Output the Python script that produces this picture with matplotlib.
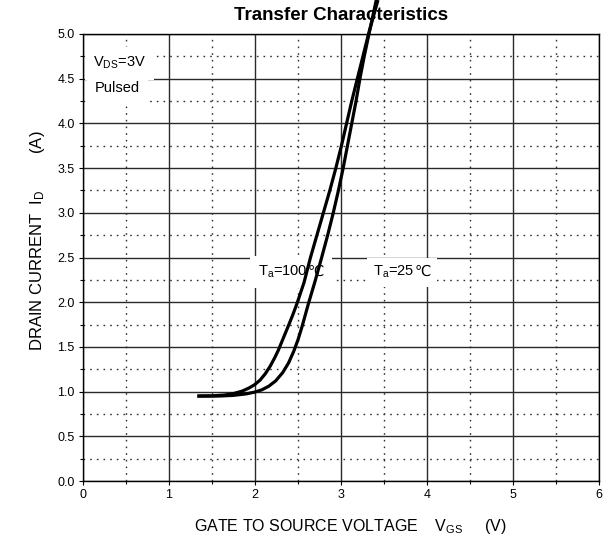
import matplotlib
matplotlib.use('Agg')
import matplotlib.pyplot as plt
from matplotlib.ticker import MultipleLocator
from matplotlib.offsetbox import TextArea, HPacker, AnnotationBbox

# ---- data ----
vgs_25 = [1.33, 1.60, 1.75, 1.90, 2.00, 2.08, 2.16, 2.24, 2.32, 2.39, 2.45, 2.50,
          2.545, 2.62, 2.70, 2.775, 2.845, 2.91, 2.97, 3.025, 3.075, 3.125, 3.175,
          3.22, 3.27, 3.325, 3.41]
id_25 = [0.95, 0.951, 0.958, 0.975, 0.995, 1.02, 1.06, 1.12, 1.21, 1.32, 1.45, 1.58,
         1.72, 1.98, 2.24, 2.50, 2.75, 3.00, 3.25, 3.50, 3.75, 4.00, 4.25,
         4.50, 4.75, 5.00, 5.38]

vgs_100 = [1.33, 1.50, 1.65, 1.75, 1.85, 1.93, 2.00, 2.06, 2.12, 2.18, 2.23, 2.27,
           2.33, 2.39, 2.44, 2.49, 2.57, 2.645, 2.72, 2.795, 2.87, 2.94, 3.005,
           3.065, 3.125, 3.19, 3.255, 3.32, 3.43]
id_100 = [0.95, 0.952, 0.962, 0.978, 1.005, 1.04, 1.08, 1.13, 1.20, 1.29, 1.38, 1.46,
          1.60, 1.74, 1.86, 1.99, 2.22, 2.50, 2.75, 3.00, 3.25, 3.50, 3.75,
          4.00, 4.25, 4.50, 4.75, 5.00, 5.38]

x_ticks = [0, 1, 2, 3, 4, 5, 6]
x_tick_labels = ['0', '1', '2', '3', '4', '5', '6']
y_ticks = [0.0, 0.5, 1.0, 1.5, 2.0, 2.5, 3.0, 3.5, 4.0, 4.5, 5.0]
y_tick_labels = ['0.0', '0.5', '1.0', '1.5', '2.0', '2.5', '3.0', '3.5', '4.0', '4.5', '5.0']

plt.rcParams['font.family'] = ['Liberation Sans', 'DejaVu Sans']
plt.rcParams['mathtext.fontset'] = 'custom'
plt.rcParams['mathtext.rm'] = 'Liberation Sans'
plt.rcParams['mathtext.it'] = 'Liberation Sans'
plt.rcParams['mathtext.bf'] = 'Liberation Sans:bold'

fig = plt.figure(figsize=(6.11, 5.43), dpi=100)
ax = fig.add_axes([83/611, 1-481/543, 516/611, 447/543])
ax.set_xlim(0, 6)
ax.set_ylim(0, 5)
ax.set_xticks(x_ticks)
ax.set_xticklabels(x_tick_labels)
ax.set_yticks(y_ticks)
ax.set_yticklabels(y_tick_labels)
ax.xaxis.set_minor_locator(MultipleLocator(0.5))
ax.yaxis.set_minor_locator(MultipleLocator(0.25))
ax.set_axisbelow(True)
ax.grid(which='major', color='#2a2a2a', lw=1.0, ls='-')
ax.grid(which='minor', color='#333333', lw=1.0, ls=(0, (1.2, 3.6)))
ax.tick_params(which='major', direction='out', length=3, width=0.8, labelsize=9, pad=3)
ax.tick_params(which='minor', direction='out', length=2, width=0.8)
for s in ax.spines.values():
    s.set_color('black')
    s.set_linewidth(1.0)

ax.plot(vgs_25, id_25, color='black', lw=2.3, clip_on=False, zorder=6,
        solid_capstyle='butt', solid_joinstyle='round')
ax.plot(vgs_100, id_100, color='black', lw=2.3, clip_on=False, zorder=6,
        solid_capstyle='butt', solid_joinstyle='round')

ax.set_title('Transfer Characteristics', fontweight='bold', fontsize=13.5, pad=10)

# condition notes (white background hides the grid behind them)
ax.text(0.116, 4.63, 'V$_{\\mathrm{DS}}$=3V', fontsize=10.5, ha='left',
        va='baseline', zorder=4, bbox=dict(facecolor='white', edgecolor='none', pad=6))
ax.text(0.14, 4.35, 'Pulsed', fontsize=10.5, ha='left',
        va='baseline', zorder=4, bbox=dict(facecolor='white', edgecolor='none', pad=6))


def temp_label(xy, main, pad):
    pack = HPacker(children=[TextArea(main, textprops=dict(fontsize=10.5)),
                             TextArea('\u2103', textprops=dict(fontsize=10.5,
                                                              family=['DejaVu Sans']))],
                   align='baseline', pad=0, sep=0)
    ab = AnnotationBbox(pack, xy, xycoords='data', box_alignment=(0, 0),
                        frameon=True, pad=pad,
                        bboxprops=dict(facecolor='white', edgecolor='none'))
    ab.set_zorder(4)
    ax.add_artist(ab)


temp_label((2.035, 2.245), 'T$_{\\mathrm{a}}$=100', 0.55)
temp_label((3.372, 2.245), 'T$_{\\mathrm{a}}$=25', 0.45)

fig.text(38/611, 1-241/543, 'DRAIN CURRENT  I$_{\\mathrm{D}}$        (A)', rotation=90,
         ha='center', va='center', fontsize=12)
fig.text(350/611, 1-527/543, 'GATE TO SOURCE VOLTAGE    V$_{\\mathrm{GS}}$     (V)',
         ha='center', va='center', fontsize=11.5)

fig.savefig('out.png', dpi=100)
